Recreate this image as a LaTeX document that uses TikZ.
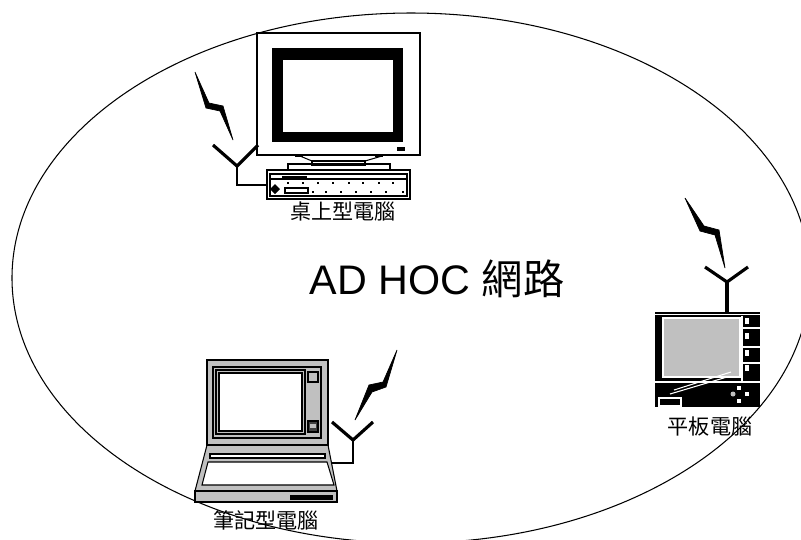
\documentclass[tikz,border=0pt]{standalone}
\usepackage{fontspec}
\setmainfont{Liberation Sans}
\newfontfamily\cjk{Noto Sans CJK TC}

\definecolor{panelgray}{RGB}{192,192,192}

\begin{document}
\begin{tikzpicture}[x=0.02cm, y=-0.02cm,
  outline/.style={draw=black, line width=0.6pt},
  mast/.style={line width=1.8pt, line join=miter},
  feed/.style={line width=1.2pt},
  bolt/.style={fill=black, draw=black, line width=0.4pt, line join=miter},
  lbl/.style={font=\cjk\fontsize{12}{14}\selectfont, inner sep=0pt},
]
  \useasboundingbox (0,0) rectangle (801,539);
  \clip (0,0) rectangle (801,539);

  % network boundary
  \draw[line width=0.6pt] (411,278) ellipse [x radius=399, y radius=265];

  \node[font=\fontsize{23.5}{27}\selectfont, inner sep=0pt] (title) at (437,279)
    {AD HOC {\cjk 網路}};

  %% desktop
  \draw[outline, fill=white] (257,33) rectangle (420,155);
  \fill (272,48) rectangle (403,142);
  \fill[white] (283,60) rectangle (393,132);
  \fill (397,147) rectangle (405,151);
  \fill (295,155) rectangle (303,157);
  \fill (375,155) rectangle (383,157);
  \draw[outline] (300,156) -- (312,161) -- (365,161) -- (382,156);
  \draw[outline] (312,161) rectangle (365,165);
  \draw[outline] (288,170) -- (288,164) -- (390,164) -- (390,170);
  \draw[outline, fill=white] (267,170) rectangle (410,199);
  \draw[outline] (270,174) rectangle (407,196);
  \draw[outline] (270,179) -- (407,179);
  \fill (282,176) rectangle (307,179);
  \fill (275,184) -- (280,189) -- (275,194) -- (270,189) -- cycle;
  \draw[outline] (285,188) rectangle (308,193);
  \foreach \x in {287,302,317,332,348,362,378,392}
    \fill (\x,182) rectangle +(2,2);
  \foreach \x in {312,325,340,355,370,385,402}
    \fill (\x,191) rectangle +(2,2);
  % antenna and link
  \draw[mast] (213,145) -- (237,166) -- (258,145);
  \draw[feed] (237,165) -- (237,185) -- (267,185);
  \draw[bolt] (195,72) -- (209,103) -- (223,106) -- (233,140)
    -- (220,111) -- (206,108) -- cycle;
  \node[lbl] (desktop) at (343,211) {桌上型電腦};

  %% tablet
  \fill (655,312) rectangle (760,407);
  \draw[white, line width=0.5pt] (655,314.5) -- (760,314.5);
  \draw[white, line width=0.8pt, fill=panelgray] (663,318) rectangle (740,377);
  \draw[white, line width=0.6pt] (742,316) -- (742,382);
  \foreach \y in {328,347,363}
    \draw[white, line width=0.6pt] (742,\y) -- (760,\y);
  \foreach \y in {318,333,350,365}
    \fill[white] (745,\y) rectangle +(4,6);
  \draw[white, line width=0.8pt] (655,382) -- (760,382);
  \draw[white, line width=0.6pt] (674,390) -- (731,372);
  \draw[white, line width=0.6pt] (670,394) -- (727,377);
  \draw[white, line width=0.8pt] (659,398) rectangle (681,406);
  \fill[white] (737,386) rectangle +(4,4);
  \fill[white] (745,392) rectangle +(4,4);
  \fill[white] (737,399) rectangle +(4,4);
  \fill[panelgray] (733,394) circle (2.5);
  % antenna
  \draw[mast] (705,267) -- (727,282) -- (748,267);
  \draw[mast] (727,281) -- (727,312);
  \draw[bolt] (685,198) -- (704,226) -- (719,230) -- (725,268)
    -- (715,235) -- (700,231) -- cycle;
  \node[lbl] (tablet) at (710,426) {平板電腦};

  %% notebook
  \draw[outline, fill=panelgray] (207,445) -- (328,445) -- (337,491) -- (195,491) -- cycle;
  \draw[outline, fill=white] (210,454) rectangle (325,458);
  \draw[outline, fill=white] (208,462) -- (327,462) -- (334,485) -- (202,485) -- cycle;
  \draw[outline, fill=panelgray] (195,491) rectangle (337,502);
  \fill (290,495) rectangle (333,500);
  \draw[outline, fill=panelgray] (207,360) rectangle (328,445);
  \draw[outline] (213,367) rectangle (321,438);
  \draw[outline] (216,370) rectangle (305,434);
  \draw[outline, fill=white] (219,373) rectangle (302,431);
  \draw[outline] (308,372) rectangle (318,382);
  \draw[outline, fill=black!75] (308,421) rectangle (318,432);
  \fill[panelgray] (310,424) rectangle (316,428);
  % antenna and link
  \draw[mast] (332,422) -- (353,440) -- (373,422);
  \draw[feed] (353,439) -- (353,463) -- (331,463);
  \draw[bolt] (397,350) -- (383,382) -- (369,385) -- (355,420)
    -- (372,392) -- (386,387) -- cycle;
  \node[lbl] (notebook) at (266,520) {筆記型電腦};
\end{tikzpicture}
\end{document}
